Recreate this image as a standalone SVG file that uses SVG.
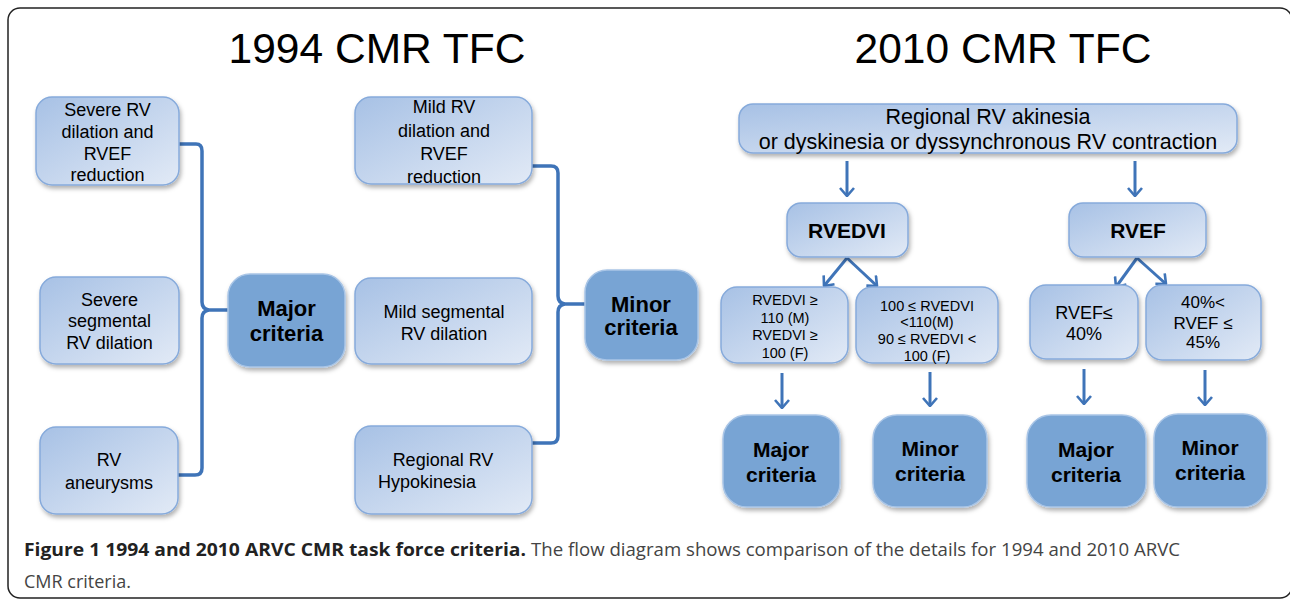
<svg xmlns="http://www.w3.org/2000/svg" width="1290" height="600" viewBox="0 0 1290 600">
<defs>
<linearGradient id="lg" x1="0" y1="0" x2="1" y2="1">
<stop offset="0" stop-color="#a7c1e5"/>
<stop offset="1" stop-color="#e2eaf6"/>
</linearGradient>
<filter id="sh" x="-20%" y="-20%" width="150%" height="150%">
<feDropShadow dx="1.5" dy="3" stdDeviation="2" flood-color="#000" flood-opacity="0.3"/>
</filter>
<marker id="ah" viewBox="0 0 10 16" refX="9" refY="8" markerWidth="10" markerHeight="16" markerUnits="userSpaceOnUse" orient="auto">
<path d="M1,1 L9,8 L1,15" fill="none" stroke="#3f74b8" stroke-width="2.6"/>
</marker>
</defs>
<style>
.lt{fill:url(#lg);stroke:#86aadb;stroke-width:1.5;filter:url(#sh)}
.dk{fill:#78a4d4;stroke:#a9c5e6;stroke-width:1.5;filter:url(#sh)}
text{font-family:"Liberation Sans",Arial,sans-serif;fill:#000;text-anchor:middle}
.t{font-size:18px}
.s{font-size:14.5px}
.b{font-weight:bold;font-size:21px}
.ttl{font-size:42.5px}
.cap{font-family:"Open Sans","Liberation Sans",sans-serif;font-size:18.5px;text-anchor:start;fill:#444}
.capb{font-weight:bold;fill:#222}
.con{fill:none;stroke:#3f74b8;stroke-width:3.5}
.arr{fill:none;stroke:#3f74b8;stroke-width:3;marker-end:url(#ah)}
</style>
<rect x="8" y="8" width="1284" height="590" rx="12" fill="none" stroke="#222" stroke-width="1.5"/>
<text class="ttl" x="377" y="63">1994 CMR TFC</text>
<text class="ttl" x="1003" y="63">2010 CMR TFC</text>

<g id="connectors">
<path class="con" d="M179,144 L196,144 Q202,144 202,151 L202,302 Q202,309 209,310 L228,310 M209,310 Q202,311 202,318 L202,468 Q202,475 195,475 L178,475"/>
<path class="con" d="M532,166 L551,166 Q558,166 558,173 L558,296 Q558,303 565,304 L585,304 M565,304 Q558,305 558,312 L558,436 Q558,443 551,443 L532,443"/>
<path class="arr" d="M847,161 L847,196"/>
<path class="arr" d="M1135,161 L1135,196"/>
<path class="arr" d="M847,258 L824,286"/>
<path class="arr" d="M847,258 L877,286"/>
<path class="arr" d="M1137,258 L1116,287"/>
<path class="arr" d="M1137,258 L1166,284"/>
<path class="arr" d="M782,373 L782,408"/>
<path class="arr" d="M930,372 L930,406"/>
<path class="arr" d="M1084,369 L1084,404"/>
<path class="arr" d="M1205,370 L1205,405"/>
</g>

<g id="n-severe-dil">
<rect class="lt" x="36" y="97" width="143" height="88" rx="16"/>
<text class="t" x="107.5" y="116">Severe RV</text>
<text class="t" x="107.5" y="138">dilation and</text>
<text class="t" x="107.5" y="160">RVEF</text>
<text class="t" x="107.5" y="181">reduction</text>
</g>
<g id="n-severe-seg">
<rect class="lt" x="40" y="277" width="139" height="87" rx="16"/>
<text class="t" x="109.5" y="306">Severe</text>
<text class="t" x="109.5" y="327">segmental</text>
<text class="t" x="109.5" y="349">RV dilation</text>
</g>
<g id="n-aneurysm">
<rect class="lt" x="40" y="427" width="138" height="87" rx="16"/>
<text class="t" x="109" y="466">RV</text>
<text class="t" x="109" y="489">aneurysms</text>
</g>
<g id="n-major-1994">
<rect class="dk" x="228" y="274" width="117" height="93" rx="22"/>
<text class="b" x="286.5" y="316" style="font-size:22px">Major</text>
<text class="b" x="286.5" y="341" style="font-size:22px">criteria</text>
</g>
<g id="n-mild-dil">
<rect class="lt" x="355" y="97" width="177" height="87" rx="16"/>
<text class="t" x="444" y="113">Mild RV</text>
<text class="t" x="444" y="137">dilation and</text>
<text class="t" x="444" y="160">RVEF</text>
<text class="t" x="444" y="183">reduction</text>
</g>
<g id="n-mild-seg">
<rect class="lt" x="355" y="278" width="177" height="86" rx="16"/>
<text class="t" x="444" y="318">Mild segmental</text>
<text class="t" x="444" y="340">RV dilation</text>
</g>
<g id="n-hypokinesia">
<rect class="lt" x="355" y="426" width="177" height="88" rx="16"/>
<text class="t" x="443" y="466">Regional RV</text>
<text class="t" x="427" y="488">Hypokinesia</text>
</g>
<g id="n-minor-1994">
<rect class="dk" x="585" y="270" width="113" height="90" rx="22"/>
<text class="b" x="641" y="312" style="font-size:22px">Minor</text>
<text class="b" x="641" y="335" style="font-size:22px">criteria</text>
</g>

<g id="n-regional">
<rect class="lt" x="739" y="104" width="498" height="49" rx="14"/>
<text x="988" y="124" style="font-size:21.5px">Regional RV akinesia</text>
<text x="988" y="149" style="font-size:21.5px">or dyskinesia or dyssynchronous RV contraction</text>
</g>
<g id="n-rvedvi">
<rect class="lt" x="787" y="203" width="121" height="54" rx="14"/>
<text class="b" x="847" y="238">RVEDVI</text>
</g>
<g id="n-rvef">
<rect class="lt" x="1069" y="203" width="137" height="54" rx="14"/>
<text class="b" x="1138" y="238">RVEF</text>
</g>
<g id="n-rvedvi-major">
<rect class="lt" x="721" y="287" width="127" height="76" rx="16"/>
<text class="s" x="785" y="305">RVEDVI ≥</text>
<text class="s" x="785" y="323">110 (M)</text>
<text class="s" x="785" y="340">RVEDVI ≥</text>
<text class="s" x="785" y="358">100 (F)</text>
</g>
<g id="n-rvedvi-minor">
<rect class="lt" x="856" y="287" width="142" height="76" rx="16"/>
<text class="s" x="927" y="311">100 ≤ RVEDVI</text>
<text class="s" x="927" y="327">&lt;110(M)</text>
<text class="s" x="927" y="344">90 ≤ RVEDVI &lt;</text>
<text class="s" x="927" y="361">100 (F)</text>
</g>
<g id="n-rvef-major">
<rect class="lt" x="1030" y="285" width="108" height="74" rx="16"/>
<text x="1084" y="319" style="font-size:18px">RVEF≤</text>
<text x="1084" y="340" style="font-size:18px">40%</text>
</g>
<g id="n-rvef-minor">
<rect class="lt" x="1146" y="285" width="115" height="75" rx="16"/>
<text x="1203" y="308" style="font-size:17px">40%&lt;</text>
<text x="1203" y="329" style="font-size:17px">RVEF ≤</text>
<text x="1203" y="348" style="font-size:17px">45%</text>
</g>
<g id="n-major-a">
<rect class="dk" x="723" y="415" width="117" height="92" rx="24"/>
<text class="b" x="781" y="457">Major</text>
<text class="b" x="781" y="482">criteria</text>
</g>
<g id="n-minor-a">
<rect class="dk" x="873" y="415" width="114" height="92" rx="24"/>
<text class="b" x="930" y="456">Minor</text>
<text class="b" x="930" y="481">criteria</text>
</g>
<g id="n-major-b">
<rect class="dk" x="1027" y="415" width="119" height="92" rx="24"/>
<text class="b" x="1086" y="457">Major</text>
<text class="b" x="1086" y="482">criteria</text>
</g>
<g id="n-minor-b">
<rect class="dk" x="1154" y="414" width="113" height="93" rx="24"/>
<text class="b" x="1210" y="455">Minor</text>
<text class="b" x="1210" y="480">criteria</text>
</g>

<g id="caption">
<text class="cap capb" x="24" y="556" textLength="502" lengthAdjust="spacingAndGlyphs">Figure 1 1994 and 2010 ARVC CMR task force criteria.</text>
<text class="cap" x="531" y="556" textLength="649" lengthAdjust="spacingAndGlyphs">The flow diagram shows comparison of the details for 1994 and 2010 ARVC</text>
<text class="cap" x="24" y="588" textLength="107" lengthAdjust="spacingAndGlyphs">CMR criteria.</text>
</g>
</svg>
